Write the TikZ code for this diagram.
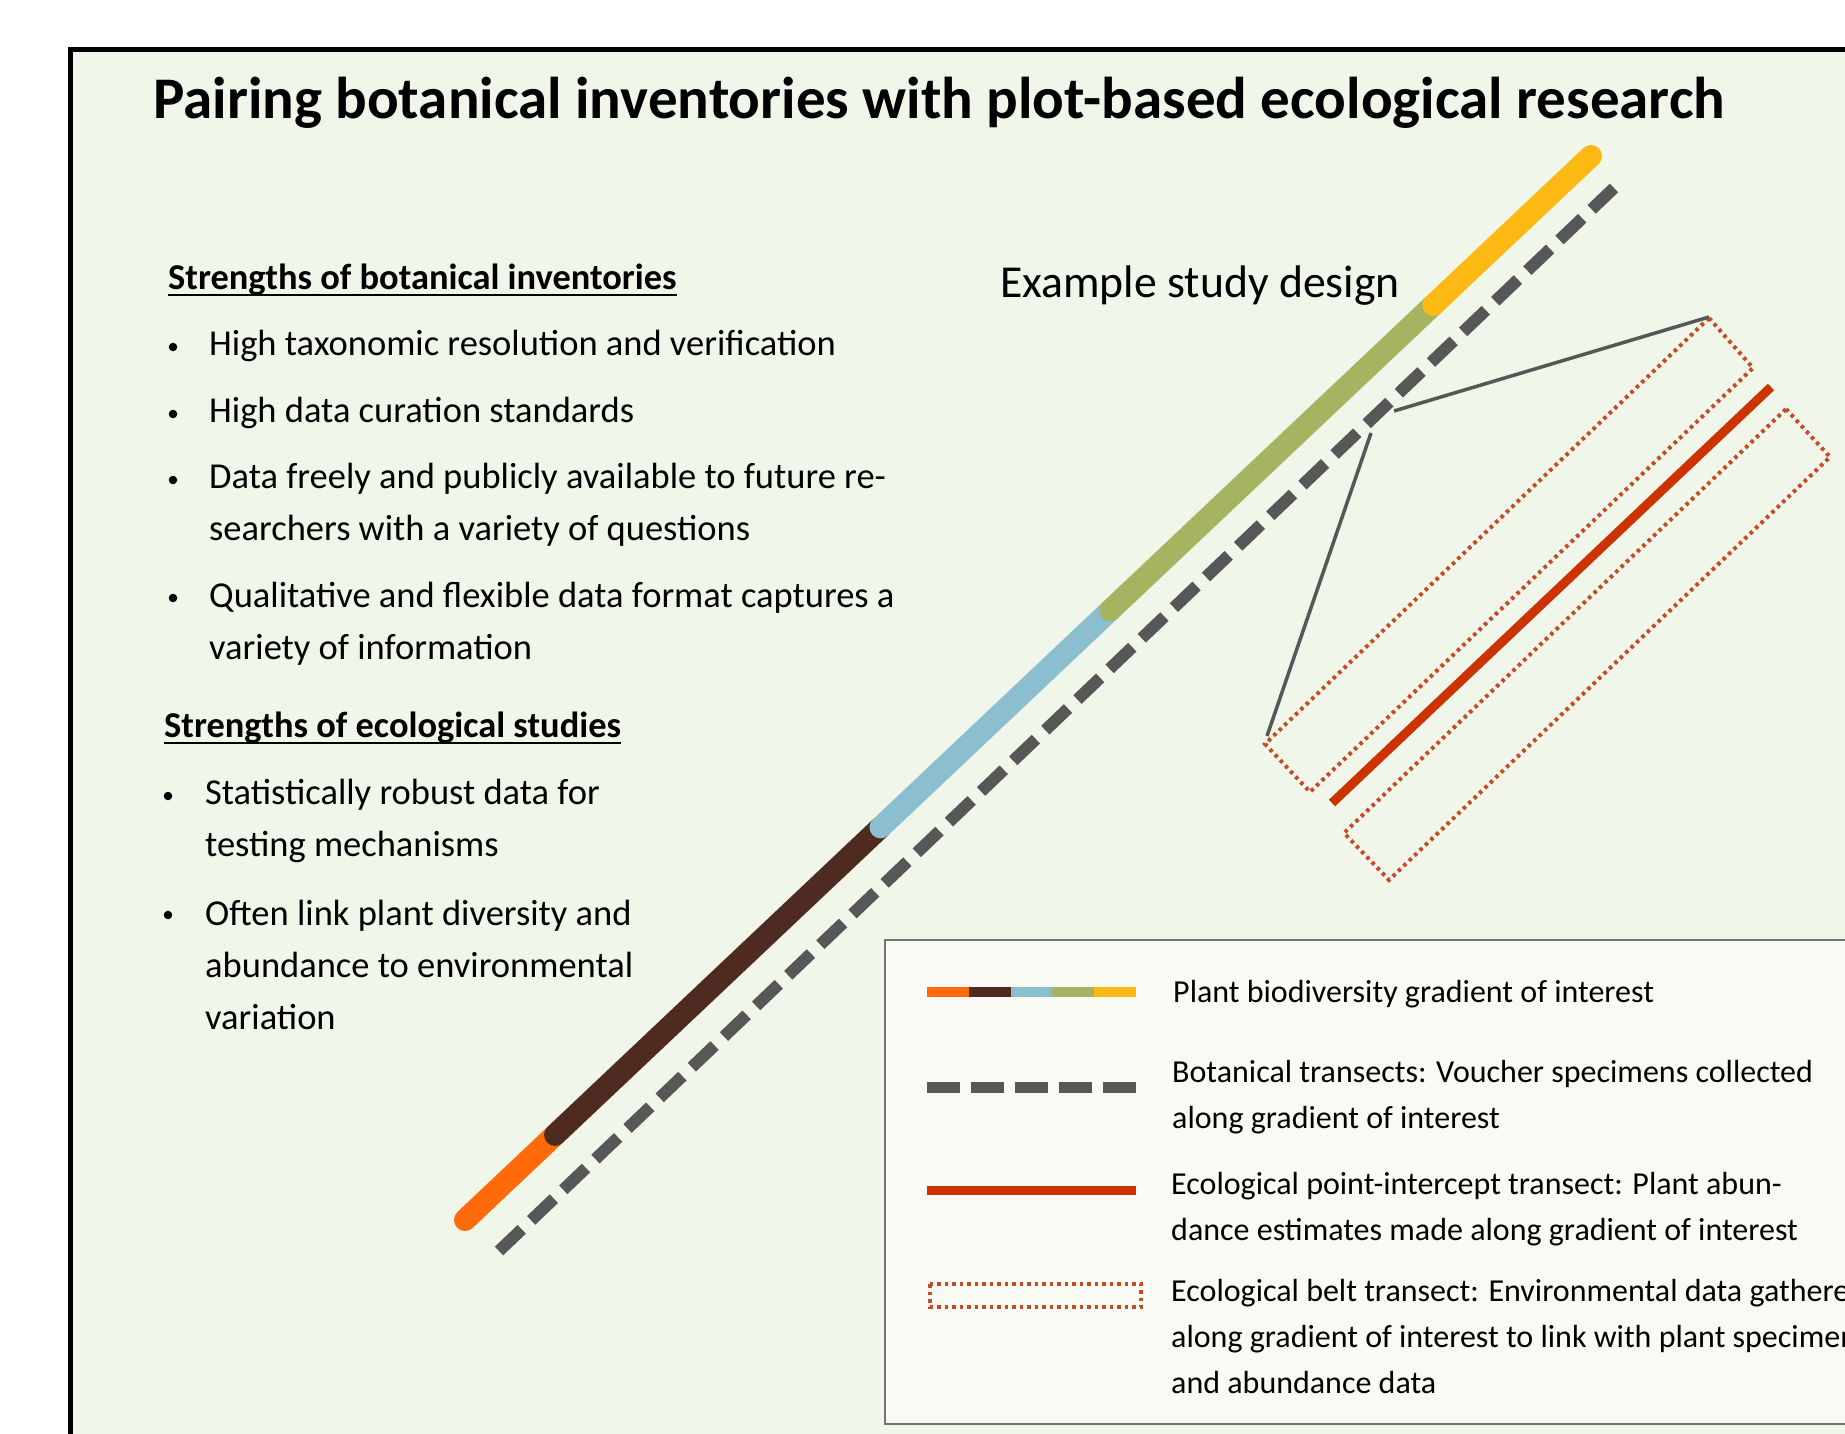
\documentclass[tikz,border=0pt]{standalone}
\usepackage{fontspec}
\setmainfont{Carlito}
\usepackage{tikz}
\usetikzlibrary{calc}

\definecolor{panelgreen}{HTML}{F0F6E9}
\definecolor{legendfill}{HTML}{F8FAF3}
\definecolor{gradorange}{HTML}{FF6A0A}
\definecolor{gradbrown}{HTML}{4F2A20}
\definecolor{gradblue}{HTML}{8BBFD0}
\definecolor{gradgreen}{HTML}{A6B462}
\definecolor{gradyellow}{HTML}{FDB913}
\definecolor{transectgray}{HTML}{575757}
\definecolor{pointred}{HTML}{CC3300}
\definecolor{beltred}{HTML}{C84A22}

\def\upperbelt{(1709,318) -- (1753,368) -- (1310,792) -- (1265,744) -- cycle}
\def\lowerbelt{(1786,409) -- (1830,457) -- (1389,880) -- (1344,833) -- cycle}

\tikzset{
  heading/.style={anchor=base west, inner sep=0pt, font=\fontsize{36.4}{44}\selectfont\bfseries},
  itemtext/.style={anchor=base west, inner sep=0pt, align=left, font=\fontsize{36.5}{52}\selectfont},
  bulletdot/.style={circle, fill=black, inner sep=0pt, minimum size=8.5pt},
  legtext/.style={anchor=base west, inner sep=0pt, align=left, font=\fontsize{32}{46}\selectfont},
  belt/.style={beltred, line width=4pt, dash pattern=on 3.5pt off 4pt},
}

\begin{document}
\begin{tikzpicture}[x=1pt, y=-1pt]
    \useasboundingbox (0,0) rectangle (1845,1434);
    \clip (0,0) rectangle (1845,1434);
    \fill[white] (0,0) rectangle (1845,1434);
    \filldraw[fill=panelgreen, draw=black, line width=5pt] (70,50) rectangle (1900,1500);

    \node[anchor=base west, inner sep=0pt, font=\fontsize{59}{68}\selectfont\bfseries] (title) at (153,119)
        {Pairing botanical inventories with plot-based ecological research};

    % left column (multi-line nodes sit on their last baseline)
    \node[heading] (hbot) at (168,289) {Strengths of botanical inventories};
    \draw[line width=2.5pt] ([yshift=-6pt]hbot.base west) -- ([yshift=-6pt]hbot.base east);
    \node[itemtext] (b1) at (209,355) {High taxonomic resolution and verification};
    \node[itemtext] (b2) at (209,422) {High data curation standards};
    \node[itemtext] (b3) at (209,540) {Data freely and publicly available to future re-\\searchers with a variety of questions};
    \node[itemtext] (b4) at (209,659) {Qualitative and flexible data format captures a\\variety of information};
    \foreach \y in {355,422,488,606}
        \node[bulletdot] (dotb\y) at (173,\y-8) {};

    \node[heading] (heco) at (164,737) {Strengths of ecological studies};
    \draw[line width=2.5pt] ([yshift=-6pt]heco.base west) -- ([yshift=-6pt]heco.base east);
    \node[itemtext] (e1) at (205,856) {Statistically robust data for\\testing mechanisms};
    \node[itemtext] (e2) at (205,1029) {Often link plant diversity and\\abundance to environmental\\variation};
    \foreach \y in {804,923}
        \node[bulletdot] (dote\y) at (168,\y-8) {};

    % study design
    \node[anchor=base west, inner sep=0pt, font=\fontsize{45.7}{54}\selectfont] (design) at (1000,298) {Example study design};

    \coordinate (g0) at (465,1220);
    \coordinate (g5) at (1591,156);
    \foreach \c/\a/\b in {gradorange/0/0.08, gradbrown/0.08/0.369, gradblue/0.369/0.573,
                          gradgreen/0.573/0.86, gradyellow/0.86/1}
        \draw[\c, line width=22pt, line cap=round] ($(g0)!\a!(g5)$) -- ($(g0)!\b!(g5)$);

    \coordinate (t0) at (499,1251);
    \coordinate (t1) at (1614,188);
    \draw[transectgray, line width=12pt, dash pattern=on 31.4pt off 13pt] (t0) -- (t1);

    \draw[belt] \upperbelt;
    \draw[belt] \lowerbelt;
    \coordinate (p0) at (1332,803);
    \coordinate (p1) at (1771,387);
    \draw[pointred, line width=9pt] (p0) -- (p1);

    \coordinate (zoomtop) at (1394,411);
    \coordinate (zoombot) at (1371,433);
    \coordinate (beltA) at (1709,317);
    \coordinate (beltD) at (1267,736);
    \draw[transectgray, line width=3.5pt] (zoomtop) -- (beltA);
    \draw[transectgray, line width=3.5pt] (zoombot) -- (beltD);

    % legend
    \filldraw[fill=legendfill, draw=gray!90!black, line width=2pt] (885,940) rectangle (1900,1424);
    \foreach \c [count=\i from 0] in {gradorange,gradbrown,gradblue,gradgreen,gradyellow}
        \draw[\c, line width=10pt] ({927+41.8*\i},992) -- ({927+41.8*(\i+1)},992);
    \draw[transectgray, line width=11pt, dash pattern=on 33pt off 11pt] (927,1087) -- (1136,1087);
    \draw[pointred, line width=9pt] (927,1190) -- (1136,1190);
    \draw[belt, line width=3.5pt] (930,1284) rectangle (1141,1307);

    \node[legtext] (l1) at (1173,1002) {Plant biodiversity gradient of interest};
    \node[legtext] (l2) at (1172,1128) {Botanical transects: Voucher specimens collected\\along gradient of interest};
    \node[legtext] (l3) at (1171,1240) {Ecological point-intercept transect: Plant abun-\\dance estimates made along gradient of interest};
    \node[legtext] (l4) at (1171,1393) {Ecological belt transect: Environmental data gathered\\along gradient of interest to link with plant specimens\\and abundance data};
\end{tikzpicture}
\end{document}
